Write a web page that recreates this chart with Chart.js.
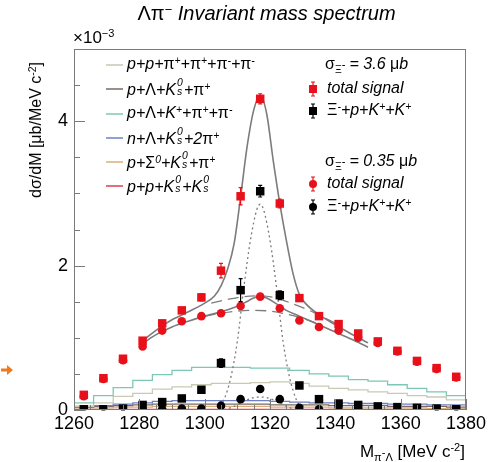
<!DOCTYPE html>
<html>
<head>
<meta charset="utf-8">
<script src="https://cdn.jsdelivr.net/npm/chart.js@4.4.1/dist/chart.umd.min.js"></script>
<style>
body{margin:0;background:#fff;}
#wrap{position:relative;width:501px;height:462px;font-family:"Liberation Sans",Arial,sans-serif;color:#000;overflow:hidden;}
canvas{position:absolute;left:0;top:0;}
.t{position:absolute;white-space:nowrap;line-height:18px;font-size:16px;font-style:italic;}
.g{font-style:normal;}
.sp{font-size:65%;position:relative;top:-0.5em;}
.sb{font-size:65%;position:relative;top:0.35em;}
.ss{display:inline-block;position:relative;width:0.5em;height:1em;}
.ss i{position:absolute;left:1px;font-size:65%;line-height:1;}
.ss i.u{top:-0.1em;}
.ss i.d{top:0.75em;}
</style>
</head>
<body>
<div id="wrap">
<canvas id="c" width="501" height="462"></canvas>

<div class="t" style="left:0;width:533px;top:2px;text-align:center;font-size:20px;line-height:22px;"><span class="g">Λπ</span><span class="sp">−</span> Invariant mass spectrum</div>
<div class="t" style="left:73px;top:29px;font-size:17px;font-style:normal;">×10<span class="sp">−3</span></div>
<div class="t" style="left:37px;top:130px;font-size:16px;font-style:normal;transform:translate(-50%,-50%) rotate(-90deg);">d<span class="g">σ</span>/dM [<span class="g">μ</span>b/MeV c<span class="sp">-2</span>]</div>
<div class="t" style="right:36px;top:442px;font-size:17px;font-style:normal;line-height:20px;">M<span class="sb">π<span style="position:relative;top:-0.4em">-</span>Λ</span> [MeV c<span class="sp">-2</span>]</div>

<div class="t" style="left:127px;top:55px;">p+p+<span class="g">π</span><span class="sp">+</span>+<span class="g">π</span><span class="sp">+</span>+<span class="g">π</span><span class="sp">-</span>+<span class="g">π</span><span class="sp">-</span></div>
<div class="t" style="left:127px;top:79px;">p+<span class="g">Λ</span>+K<span class="ss"><i class="u">0</i><i class="d">s</i></span>+<span class="g">π</span><span class="sp">+</span></div>
<div class="t" style="left:127px;top:104px;">p+<span class="g">Λ</span>+K<span class="sp">+</span>+<span class="g">π</span><span class="sp">+</span>+<span class="g">π</span><span class="sp">-</span></div>
<div class="t" style="left:127px;top:128px;">n+<span class="g">Λ</span>+K<span class="ss"><i class="u">0</i><i class="d">s</i></span>+2<span class="g">π</span><span class="sp">+</span></div>
<div class="t" style="left:127px;top:152px;">p+<span class="g">Σ</span><span class="sp">0</span>+K<span class="ss"><i class="u">0</i><i class="d">s</i></span>+<span class="g">π</span><span class="sp">+</span></div>
<div class="t" style="left:127px;top:176px;">p+p+K<span class="ss"><i class="u">0</i><i class="d">s</i></span>+K<span class="ss"><i class="u">0</i><i class="d">s</i></span></div>

<div class="t" style="left:325px;top:55px;"><span class="g">σ</span><span class="sb"><span class="g">Ξ</span><span style="position:relative;top:-0.4em">-</span></span> = 3.6 <span class="g">μ</span>b</div>
<div class="t" style="left:327px;top:79px;">total signal</div>
<div class="t" style="left:327px;top:101px;"><span class="g">Ξ</span><span class="sp">-</span>+p+K<span class="sp">+</span>+K<span class="sp">+</span></div>
<div class="t" style="left:325px;top:152px;"><span class="g">σ</span><span class="sb"><span class="g">Ξ</span><span style="position:relative;top:-0.4em">-</span></span> = 0.35 <span class="g">μ</span>b</div>
<div class="t" style="left:327px;top:174px;">total signal</div>
<div class="t" style="left:327px;top:197px;"><span class="g">Ξ</span><span class="sp">-</span>+p+K<span class="sp">+</span>+K<span class="sp">+</span></div>
</div>

<script>
// bin centres (6 MeV bins from 1260 to 1380), values in units of 1e-3 ub/MeV c-2
const mass = [1263, 1269, 1275, 1281, 1287, 1293, 1299, 1305, 1311, 1317,
              1323, 1329, 1335, 1341, 1347, 1353, 1359, 1365, 1371, 1377]

// sigma = 3.6 ub
const totalHi = [0.21, 0.44, 0.71, 0.96, 1.20, 1.38, 1.56, 1.93, 2.96, 4.31,
                 2.86, 1.55, 1.30, 1.19, 1.06, 0.95, 0.82, 0.68, 0.58, 0.46]
const totalHiErr = [0.03, 0.03, 0.04, 0.04, 0.04, 0.04, 0.05, 0.10, 0.12, 0.07,
                    0.06, 0.04, 0.04, 0.04, 0.03, 0.03, 0.03, 0.03, 0.03, 0.03]
const xiHi = [0.01, 0.01, 0.02, 0.07, 0.11, 0.16, 0.28, 0.65, 1.66, 3.03,
              1.59, 0.34, 0.15, 0.09, 0.07, 0.05, 0.04, 0.03, 0.02, 0.01]
const xiHiErr = [0.02, 0.02, 0.03, 0.03, 0.04, 0.04, 0.04, 0.06, 0.16, 0.08,
                 0.06, 0.04, 0.03, 0.03, 0.03, 0.03, 0.03, 0.02, 0.02, 0.02]

// sigma = 0.35 ub
const totalLo = [0.19, 0.43, 0.69, 0.88, 1.10, 1.23, 1.30, 1.34, 1.44, 1.57,
                 1.41, 1.24, 1.15, 1.10, 1.00, 0.93, 0.81, 0.67, 0.57, 0.45]
const totalLoErr = [0.03, 0.03, 0.03, 0.03, 0.03, 0.03, 0.03, 0.03, 0.03, 0.03,
                    0.03, 0.03, 0.03, 0.03, 0.03, 0.03, 0.03, 0.03, 0.03, 0.03]
const xiLo = [0, 0, 0, 0, 0.01, 0.02, 0.02, 0.06, 0.15, 0.29,
              0.15, 0.03, 0.01, 0, 0, 0, 0, 0, 0, 0]

// background channels (histograms)
const bgPP4pi   = [0.05, 0.10, 0.19, 0.23, 0.29, 0.32, 0.35, 0.37, 0.37, 0.38,
                   0.39, 0.37, 0.33, 0.30, 0.28, 0.25, 0.23, 0.20, 0.18, 0.14]
const bgPLKspi  = [0.04, 0.05, 0.06, 0.07, 0.08, 0.08, 0.08, 0.08, 0.08, 0.08,
                   0.07, 0.07, 0.07, 0.06, 0.06, 0.06, 0.05, 0.05, 0.05, 0.04]
const bgPLKpipi = [0.10, 0.20, 0.31, 0.41, 0.49, 0.55, 0.59, 0.59, 0.59, 0.58,
                   0.58, 0.55, 0.50, 0.47, 0.42, 0.40, 0.35, 0.30, 0.25, 0.20]
const bgNLKs2pi = [0.05, 0.06, 0.08, 0.10, 0.12, 0.13, 0.13, 0.13, 0.13, 0.13,
                   0.12, 0.11, 0.10, 0.10, 0.09, 0.09, 0.08, 0.08, 0.07, 0.07]
const bgPS0Kspi = [0.03, 0.03, 0.04, 0.04, 0.05, 0.05, 0.05, 0.05, 0.05, 0.05,
                   0.04, 0.04, 0.04, 0.03, 0.03, 0.03, 0.03, 0.03, 0.02, 0.02]
const bgPPKsKs  = [0.01, 0.01, 0.01, 0.01, 0.01, 0.01, 0.01, 0.01, 0.01, 0.01,
                   0.01, 0.01, 0.01, 0.01, 0.01, 0.01, 0.01, 0.01, 0.01, 0.01]

// fitted curves
const fitHiX = [1281, 1285, 1290, 1295, 1300, 1303, 1305, 1307, 1309, 1311, 1313, 1315, 1317,
                1319, 1321, 1323, 1325, 1327, 1329, 1331, 1335, 1340, 1345, 1350]
const fitHiY = [0.96, 1.10, 1.25, 1.36, 1.48, 1.58, 1.72, 1.95, 2.30, 2.95, 3.65, 4.15, 4.36,
                4.10, 3.45, 2.86, 2.35, 1.90, 1.60, 1.47, 1.32, 1.18, 1.05, 0.93]
const bgHiX = [1302, 1307, 1312, 1317, 1322, 1327, 1332, 1337, 1342]
const bgHiY = [1.48, 1.53, 1.57, 1.58, 1.55, 1.47, 1.38, 1.27, 1.16]
const sigHiX = [1304, 1306, 1308, 1310, 1312, 1314, 1316, 1317, 1318, 1320, 1322, 1324, 1326, 1328, 1330]
const sigHiY = [0, 0.15, 0.45, 0.95, 1.70, 2.35, 2.78, 2.85, 2.78, 2.35, 1.70, 0.95, 0.45, 0.15, 0]

const fitLoX = [1281, 1285, 1290, 1295, 1300, 1305, 1309, 1312, 1315, 1317, 1319, 1322, 1325, 1329,
                1335, 1340, 1345, 1350]
const fitLoY = [0.92, 1.04, 1.15, 1.23, 1.30, 1.36, 1.42, 1.48, 1.55, 1.58, 1.55, 1.47, 1.38, 1.30,
                1.18, 1.08, 0.98, 0.87]
const bgLoX = [1300, 1305, 1310, 1315, 1320, 1325, 1330, 1335]
const bgLoY = [1.30, 1.34, 1.37, 1.38, 1.37, 1.33, 1.27, 1.19]
const sigLoX = [1306, 1309, 1312, 1315, 1317, 1319, 1322, 1325, 1328]
const sigLoY = [0.0, 0.05, 0.12, 0.17, 0.18, 0.17, 0.12, 0.05, 0.0]

const xTicks = [1260, 1280, 1300, 1320, 1340, 1360, 1380]
const yTicks = [0, 2, 4]

const RED = '#e8101a'
const font = '"Liberation Sans", Arial, sans-serif'

const pts = (xs, ys) => xs.map((x, i) => ({ x: x, y: ys[i] }))
const hist = (vals) => [{ x: 1260, y: vals[0] }, ...pts(mass, vals), { x: 1380, y: vals[vals.length - 1] }]

const histogram = (vals, color) => ({
    data: hist(vals), showLine: true, stepped: 'middle', borderColor: color,
    borderWidth: 1.3, pointRadius: 0, order: 3
})
const curve = (xs, ys, dash) => ({
    data: pts(xs, ys), showLine: true, tension: 0.4, cubicInterpolationMode: 'monotone',
    borderColor: '#7c7c7c', borderWidth: dash ? 1.3 : 1.6, borderDash: dash || [], pointRadius: 0, order: 2
})
const markers = (ys, errs, color, style) => ({
    data: pts(mass, ys), errors: errs, showLine: false, pointStyle: style,
    pointRadius: style === 'rect' ? 6 : 4.3, backgroundColor: color, borderColor: color,
    borderWidth: 0, order: 1
})

const legendLines = ['#c9c9b4', '#7a6a64', '#7cc8b4', '#7080c0', '#d8b078', '#d84050']

const decor = {
    id: 'decor',
    afterDatasetsDraw(chart) {
        const { ctx, chartArea: a, scales: { x, y } } = chart
        ctx.save()
        // error bars
        chart.data.datasets.forEach((ds, i) => {
            if (!ds.errors) return
            ctx.strokeStyle = ds.borderColor
            ctx.lineWidth = 1.2
            chart.getDatasetMeta(i).data.forEach((p, j) => {
                const v = ds.data[j].y, e = ds.errors[j]
                const t = y.getPixelForValue(v + e), b = y.getPixelForValue(Math.max(0, v - e))
                ctx.beginPath()
                ctx.moveTo(p.x, t); ctx.lineTo(p.x, b)
                ctx.moveTo(p.x - 2, t); ctx.lineTo(p.x + 2, t)
                ctx.moveTo(p.x - 2, b); ctx.lineTo(p.x + 2, b)
                ctx.stroke()
            })
        })
        // frame + ticks
        ctx.strokeStyle = '#7a7a7a'
        ctx.lineWidth = 1
        ctx.strokeRect(a.left + 0.5, a.top + 0.5, a.right - a.left - 1, a.bottom - a.top - 1)
        ctx.beginPath()
        for (let v = 0; v <= 5; v += 0.5) {
            const py = Math.round(y.getPixelForValue(v)) + 0.5
            ctx.moveTo(a.left, py); ctx.lineTo(a.left + (v % 2 === 0 ? 11 : 6), py)
        }
        for (let v = 1260; v <= 1380; v += 5) {
            const px = Math.round(x.getPixelForValue(v)) + 0.5
            ctx.moveTo(px, a.bottom); ctx.lineTo(px, a.bottom - (v % 20 === 0 ? 11 : 5))
        }
        ctx.stroke()
        // legend symbols
        const rows = [65, 89, 114, 138, 162, 186]
        legendLines.forEach((c, i) => {
            ctx.strokeStyle = c; ctx.lineWidth = 1.5
            ctx.beginPath(); ctx.moveTo(106, rows[i]); ctx.lineTo(123, rows[i]); ctx.stroke()
        })
        const sym = [[89, RED, 'rect'], [111, '#000', 'rect'], [184, RED, 'circle'], [207, '#000', 'circle']]
        sym.forEach(([py, c, s]) => {
            ctx.strokeStyle = c; ctx.fillStyle = c; ctx.lineWidth = 1.2
            ctx.beginPath()
            ctx.moveTo(313, py - 7); ctx.lineTo(313, py + 7)
            ctx.moveTo(311, py - 7); ctx.lineTo(315, py - 7)
            ctx.moveTo(311, py + 7); ctx.lineTo(315, py + 7)
            ctx.stroke()
            ctx.beginPath()
            if (s === 'rect') ctx.rect(309, py - 4, 8, 8)
            else ctx.arc(313, py, 4, 0, Math.PI * 2)
            ctx.fill()
        })
        // orange arrow at left edge
        ctx.fillStyle = '#f07a1e'
        ctx.fillRect(1, 368.5, 7, 3)
        ctx.beginPath(); ctx.moveTo(7, 365); ctx.lineTo(13, 370); ctx.lineTo(7, 375); ctx.closePath(); ctx.fill()
        ctx.restore()
    }
}

new Chart(document.getElementById('c'), {
    type: 'scatter',
    data: {
        datasets: [
            markers(totalHi, totalHiErr, RED, 'rect'),
            markers(xiHi, xiHiErr, '#000', 'rect'),
            markers(totalLo, totalLoErr, RED, 'circle'),
            markers(xiLo, null, '#000', 'circle'),
            curve(fitHiX, fitHiY),
            curve(bgHiX, bgHiY, [11, 6]),
            curve(sigHiX, sigHiY, [2, 3]),
            curve(fitLoX, fitLoY),
            curve(bgLoX, bgLoY, [11, 6]),
            curve(sigLoX, sigLoY, [2, 3]),
            histogram(bgPLKpipi, legendLines[2]),
            histogram(bgPP4pi, legendLines[0]),
            histogram(bgNLKs2pi, legendLines[3]),
            histogram(bgPLKspi, legendLines[1]),
            histogram(bgPS0Kspi, legendLines[4]),
            histogram(bgPPKsKs, legendLines[5])
        ]
    },
    options: {
        responsive: false,
        animation: false,
        devicePixelRatio: 1,
        layout: { padding: { left: 0, right: 35, top: 49, bottom: 0 } },
        plugins: { legend: { display: false }, tooltip: { enabled: false } },
        scales: {
            x: {
                type: 'linear', min: 1260, max: 1380,
                grid: { display: false, drawTicks: false }, border: { display: false },
                afterBuildTicks: (s) => { s.ticks = xTicks.map((v) => ({ value: v })) },
                afterFit: (s) => { s.height = 52 },
                ticks: { color: '#000', font: { family: font, size: 18 }, padding: 3, maxRotation: 0,
                         autoSkip: false, callback: (v) => String(v) }
            },
            y: {
                min: 0, max: 5,
                grid: { display: false, drawTicks: false }, border: { display: false },
                afterBuildTicks: (s) => { s.ticks = yTicks.map((v) => ({ value: v })) },
                afterFit: (s) => { s.width = 74 },
                ticks: { color: '#000', font: { family: font, size: 18 }, padding: 6, callback: (v) => String(v) }
            }
        }
    },
    plugins: [decor]
})
</script>
</body>
</html>
